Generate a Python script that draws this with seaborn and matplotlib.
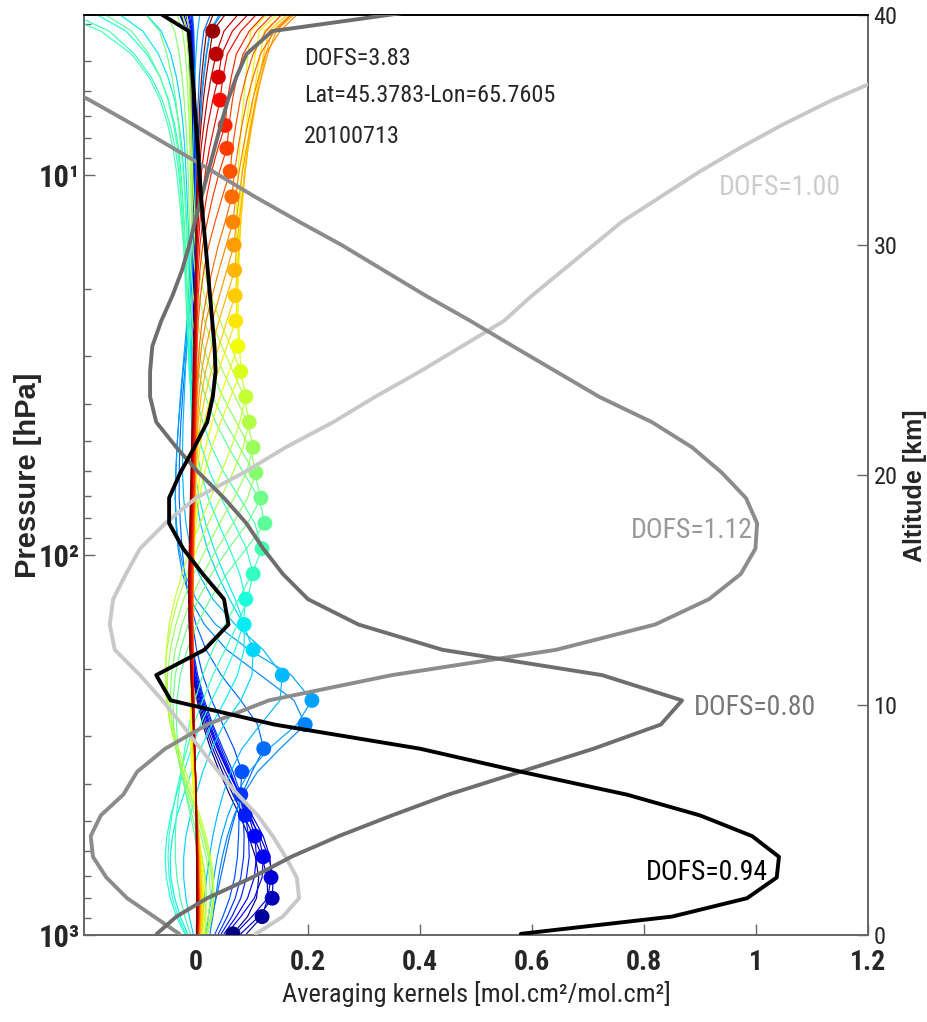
import numpy as np
import pandas as pd
import matplotlib
matplotlib.use('Agg')
import matplotlib.pyplot as plt
import seaborn as sns
from matplotlib import font_manager
from matplotlib.ticker import FixedLocator, LogLocator, NullFormatter

# altitude of the retrieval levels (km), last one sits just above the plot top
alt_km = [0.05, 0.8, 1.6, 2.5, 3.4, 4.3, 5.2, 6.1, 7.1, 8.1,
          9.15, 10.2, 11.3, 12.4, 13.5, 14.6, 15.7, 16.8, 17.9, 19.0,
          20.1, 21.2, 22.3, 23.4, 24.5, 25.6, 26.7, 27.8, 28.9, 30.0,
          31.0, 32.1, 33.2, 34.2, 35.2, 36.3, 37.3, 38.3, 39.3, 40.6]

# averaging kernel rows (x1000), one row per level, low levels first
ak_low = [
    [66, 92, 108, 112, 106, 94, 78, 60, 42, 26, 12, 2, -6, -10, -12, -12, -11, -10, -9, -8,
     -7, -6, -6, -5, -5, -5, -5, -5, -5, -5, -5, -6, -6, -7, -8, -9, -11, -13, -16, -40],
    [90, 118, 128, 127, 118, 103, 85, 66, 47, 30, 15, 4, -5, -10, -12, -12, -11, -10, -9, -8,
     -7, -6, -5, -5, -4, -4, -4, -4, -4, -4, -4, -5, -5, -6, -7, -8, -10, -12, -15, -36],
    [80, 112, 136, 138, 130, 114, 94, 73, 52, 34, 18, 6, -4, -9, -12, -12, -11, -10, -9, -8,
     -7, -6, -5, -4, -4, -4, -4, -4, -4, -4, -4, -4, -5, -5, -6, -7, -8, -10, -12, -30],
    [70, 100, 128, 134, 132, 120, 100, 79, 57, 38, 21, 8, -3, -9, -11, -12, -11, -10, -9, -8,
     -7, -6, -5, -4, -4, -3, -3, -3, -3, -3, -3, -4, -4, -4, -5, -6, -7, -8, -10, -25],
    [55, 80, 104, 118, 120, 112, 97, 78, 58, 40, 23, 9, -2, -8, -11, -11, -11, -10, -9, -8,
     -7, -6, -5, -4, -3, -3, -3, -3, -3, -3, -3, -3, -3, -4, -4, -5, -6, -7, -8, -20],
    [50, 72, 92, 104, 108, 105, 94, 78, 60, 42, 25, 11, 0, -7, -10, -11, -10, -9, -8, -7,
     -6, -5, -4, -3, -3, -2, -2, -2, -2, -2, -2, -2, -3, -3, -3, -4, -5, -6, -7, -16],
    [45, 64, 80, 90, 95, 94, 88, 77, 62, 45, 28, 13, 1, -6, -10, -11, -10, -9, -8, -7,
     -6, -5, -4, -3, -2, -2, -2, -2, -2, -2, -2, -2, -2, -3, -3, -3, -4, -5, -6, -12],
    [40, 56, 70, 80, 85, 86, 84, 80, 66, 48, 30, 15, 3, -5, -9, -10, -10, -9, -8, -7,
     -6, -5, -4, -3, -2, -2, -1, -1, -1, -1, -1, -1, -1, -2, -2, -2, -3, -4, -5, -10],
    [34, 48, 60, 69, 74, 76, 77, 79, 82, 68, 48, 28, 12, 1, -6, -9, -10, -9, -8, -7,
     -6, -5, -4, -3, -2, -2, -1, -1, -1, -1, -1, -1, -1, -1, -2, -2, -2, -3, -4, -8],
    [20, 28, 36, 44, 52, 60, 70, 82, 100, 121, 110, 80, 45, 18, 0, -12, -20, -25, -28, -30,
     -30, -29, -27, -24, -20, -16, -12, -9, -6, -4, -2, -1, 0, 1, 2, 4, 6, 9, 14, 35],
    [25, 30, 35, 40, 47, 56, 68, 84, 110, 150, 195, 175, 115, 55, 15, -10, -24, -32, -36, -37,
     -36, -34, -31, -27, -23, -18, -14, -10, -7, -4, -2, 0, 2, 4, 7, 10, 14, 19, 26, 60],
    [18, 22, 27, 32, 38, 46, 57, 72, 95, 130, 180, 207, 170, 95, 35, 0, -20, -30, -35, -37,
     -36, -34, -31, -28, -24, -20, -16, -12, -9, -6, -3, -1, 1, 3, 6, 9, 13, 18, 25, 55],
    [10, 12, 15, 19, 24, 30, 38, 48, 62, 82, 115, 150, 154, 120, 70, 30, 5, -10, -18, -22,
     -24, -24, -23, -21, -19, -17, -15, -13, -11, -9, -8, -7, -6, -5, -4, -3, -2, 0, 3, 10],
]
ak_mid = [
    [-5, -12, -18, -22, -22, -18, -10, 0, 12, 28, 50, 80, 100, 102, 85, 60, 38, 20, 8, 0,
     -4, -6, -7, -8, -8, -8, -8, -9, -10, -12, -14, -16, -18, -20, -23, -28, -35, -45, -62, -110],
    [-15, -28, -38, -45, -46, -42, -34, -22, -8, 8, 28, 52, 74, 86, 86, 70, 50, 32, 17, 6,
     -2, -6, -8, -9, -10, -10, -11, -12, -13, -15, -17, -19, -22, -25, -30, -38, -50, -67, -95, -170],
    [-20, -35, -46, -53, -55, -52, -45, -35, -22, -8, 8, 28, 50, 70, 84, 89, 78, 60, 40, 22,
     9, 0, -6, -9, -12, -13, -14, -15, -17, -19, -21, -24, -27, -31, -38, -49, -64, -88, -125, -220],
    [-18, -32, -42, -48, -50, -48, -43, -36, -27, -16, -4, 12, 30, 52, 74, 92, 102, 90, 68, 45,
     25, 10, 0, -7, -12, -14, -16, -18, -20, -22, -24, -27, -31, -37, -46, -60, -80, -110, -155, -270],
    [-10, -20, -28, -34, -37, -37, -35, -31, -26, -20, -12, -2, 12, 30, 52, 76, 100, 118, 105, 78,
     50, 28, 12, 0, -10, -12, -14, -16, -19, -22, -26, -30, -35, -41, -50, -64, -84, -115, -170, -300],
    [5, 10, 12, 10, 5, -2, -10, -18, -26, -32, -35, -34, -28, -16, 2, 25, 55, 90, 123, 112,
     85, 58, 35, 17, 4, -5, -11, -15, -18, -20, -22, -25, -29, -33, -40, -50, -64, -84, -115, -200],
    [10, 16, 19, 17, 11, 3, -7, -17, -27, -35, -40, -41, -37, -28, -14, 4, 28, 58, 92, 116,
     104, 78, 52, 30, 14, 2, -6, -11, -14, -16, -18, -20, -23, -27, -31, -36, -43, -52, -65, -110],
    [15, 22, 26, 24, 18, 9, -2, -14, -26, -36, -43, -46, -44, -37, -25, -9, 12, 38, 66, 92,
     107, 96, 72, 48, 28, 13, 2, -5, -9, -11, -12, -13, -14, -16, -18, -21, -25, -30, -38, -65],
    [18, 26, 30, 28, 22, 13, 2, -11, -24, -36, -46, -51, -51, -46, -36, -22, -4, 18, 42, 68,
     90, 102, 92, 70, 48, 30, 15, 5, -2, -6, -8, -9, -10, -11, -12, -14, -16, -19, -24, -42],
    [20, 28, 32, 30, 24, 15, 4, -9, -22, -35, -46, -53, -55, -52, -44, -32, -16, 2, 22, 44,
     66, 84, 95, 86, 66, 46, 28, 15, 5, -1, -5, -7, -8, -9, -10, -11, -12, -14, -17, -30],
    [20, 28, 32, 31, 26, 18, 7, -5, -18, -31, -42, -50, -54, -53, -48, -38, -25, -10, 7, 26,
     45, 63, 78, 89, 80, 62, 43, 27, 14, 5, -1, -4, -6, -7, -8, -9, -9, -10, -12, -20],
]
ak_high = [
    [15, 18, 18, 15, 10, 5, 0, -4, -7, -9, -10, -10, -9, -8, -7, -6, -5, -3, 0, 6,
     15, 28, 44, 62, 80, 78, 76, 74, 73, 72, 72, 73, 75, 78, 81, 85, 89, 93, 98, 150],
    [12, 14, 14, 12, 9, 5, 1, -3, -6, -8, -9, -9, -9, -8, -7, -6, -5, -4, -2, 2,
     8, 17, 29, 43, 59, 75, 75, 75, 75, 76, 77, 79, 82, 86, 90, 95, 100, 106, 113, 170],
    [10, 12, 12, 10, 8, 5, 2, -1, -4, -6, -7, -8, -8, -8, -7, -6, -5, -4, -3, -1,
     2, 7, 15, 26, 40, 55, 71, 74, 76, 78, 80, 83, 87, 91, 96, 102, 108, 115, 122, 180],
    [8, 10, 10, 9, 7, 5, 2, 0, -3, -5, -6, -7, -8, -8, -7, -6, -5, -4, -3, -2,
     0, 3, 8, 16, 27, 41, 55, 70, 74, 77, 80, 84, 88, 93, 99, 106, 113, 121, 130, 190],
    [7, 8, 8, 7, 6, 4, 2, 0, -2, -4, -5, -6, -7, -7, -7, -6, -5, -4, -3, -2,
     -1, 1, 4, 9, 17, 28, 41, 55, 69, 73, 77, 82, 87, 93, 100, 108, 116, 125, 136, 195],
    [6, 7, 7, 6, 5, 4, 2, 0, -2, -3, -4, -5, -6, -6, -6, -6, -5, -4, -3, -2,
     -1, 0, 2, 5, 10, 18, 29, 42, 55, 68, 72, 77, 83, 90, 98, 107, 117, 128, 143, 200],
    [5, 6, 6, 5, 4, 3, 2, 0, -1, -3, -4, -5, -5, -6, -6, -6, -5, -5, -4, -3,
     -2, -1, 0, 2, 5, 10, 18, 29, 41, 54, 66, 71, 77, 84, 92, 101, 112, 124, 150, 205],
    [5, 6, 6, 5, 4, 3, 2, 0, -1, -2, -3, -4, -5, -5, -6, -6, -5, -5, -4, -3,
     -2, -1, 0, 1, 3, 6, 11, 19, 29, 40, 52, 64, 69, 75, 82, 91, 102, 115, 140, 195],
    [4, 5, 5, 4, 3, 2, 1, 0, -1, -2, -3, -4, -5, -5, -6, -6, -6, -5, -5, -4,
     -3, -2, -1, 0, 1, 2, 4, 8, 14, 23, 34, 47, 61, 65, 71, 79, 89, 102, 125, 175],
    [4, 5, 5, 4, 3, 2, 1, 0, -1, -2, -3, -4, -5, -6, -7, -7, -7, -6, -5, -4,
     -3, -2, -1, 0, 0, 1, 2, 4, 7, 12, 20, 30, 42, 55, 59, 65, 73, 84, 108, 160],
    [3, 4, 4, 4, 3, 2, 1, 0, -1, -2, -3, -4, -5, -6, -7, -8, -8, -7, -6, -5,
     -4, -3, -2, -1, 0, 0, 1, 2, 4, 7, 12, 19, 28, 39, 52, 56, 63, 72, 95, 145],
    [3, 4, 4, 3, 3, 2, 1, 0, -1, -2, -3, -4, -6, -7, -8, -9, -9, -8, -7, -6,
     -5, -4, -3, -2, -1, 0, 0, 1, 2, 4, 7, 11, 17, 24, 33, 43, 48, 56, 80, 130],
    [2, 3, 3, 3, 2, 2, 1, 0, -1, -2, -4, -5, -7, -8, -9, -10, -10, -9, -8, -7,
     -6, -5, -4, -3, -2, -1, 0, 0, 1, 2, 4, 6, 10, 15, 21, 30, 40, 46, 65, 115],
    [2, 3, 3, 2, 2, 1, 1, 0, -1, -2, -4, -6, -8, -9, -10, -11, -11, -10, -9, -8,
     -7, -6, -5, -4, -3, -2, -1, 0, 0, 1, 2, 4, 6, 9, 14, 20, 27, 36, 50, 95],
    [1, 2, 2, 2, 1, 1, 0, 0, -1, -3, -5, -7, -9, -10, -11, -12, -12, -11, -10, -9,
     -8, -7, -6, -5, -4, -3, -2, -1, 0, 0, 1, 2, 4, 6, 9, 13, 18, 24, 30, 70],
    [1, 1, 1, 1, 1, 0, 0, 0, -1, -3, -5, -7, -9, -11, -12, -13, -13, -12, -11, -10,
     -9, -8, -7, -6, -5, -4, -3, -2, -1, 0, 0, 1, 2, 3, 5, 7, 10, 14, 19, 40],
]

# column kernels of the four single-layer retrievals
dofs_094 = [0.58, 0.85, 0.984, 1.037, 1.041, 0.993, 0.90, 0.77, 0.58, 0.40,
            0.14, -0.045, -0.071, 0.015, 0.058, 0.05, 0.012, -0.023, -0.048, -0.048,
            -0.028, -0.003, 0.02, 0.03, 0.035, 0.033, 0.029, 0.025, 0.021, 0.017,
            0.013, 0.009, 0.006, 0.003, 0.0, -0.003, -0.006, -0.009, -0.013, -0.10]
dofs_080 = [-0.07, -0.035, 0.02, 0.10, 0.17, 0.255, 0.35, 0.45, 0.58, 0.71,
            0.83, 0.868, 0.725, 0.44, 0.29, 0.20, 0.155, 0.12, 0.09, 0.05,
            0.005, -0.035, -0.071, -0.082, -0.082, -0.078, -0.062, -0.042, -0.025, -0.012,
            -0.002, 0.01, 0.022, 0.033, 0.044, 0.057, 0.072, 0.09, 0.136, 0.52]
dofs_112 = [-0.03, -0.075, -0.123, -0.16, -0.184, -0.188, -0.17, -0.13, -0.105, -0.055,
            0.02, 0.13, 0.35, 0.643, 0.82, 0.916, 0.973, 0.999, 1.002, 0.982,
            0.939, 0.886, 0.814, 0.72, 0.643, 0.566, 0.49, 0.41, 0.335, 0.26,
            0.185, 0.105, 0.03, -0.04, -0.11, -0.19, -0.27, -0.34, -0.41, -0.50]
dofs_100 = [0.107, 0.155, 0.184, 0.18, 0.16, 0.137, 0.11, 0.075, 0.04, 0.008,
            -0.025, -0.06, -0.10, -0.145, -0.154, -0.148, -0.125, -0.10, -0.055, 0.0,
            0.085, 0.16, 0.245, 0.32, 0.40, 0.475, 0.55, 0.60, 0.655, 0.71,
            0.76, 0.83, 0.90, 0.97, 1.045, 1.136, 1.23, 1.32, 1.41, 1.50]

x_ticks = [0, 0.2, 0.4, 0.6, 0.8, 1.0, 1.2]
x_tick_labels = ['0', '0.2', '0.4', '0.6', '0.8', '1', '1.2']
alt_ticks = [0, 10, 20, 30, 40]
p_ticks = [10, 100, 1000]
p_tick_labels = ['10\u00b9', '10\u00b2', '10\u00b3']

info_lines = ['DOFS=3.83', 'Lat=45.3783-Lon=65.7605', '20100713']
info_alt = [37.83, 36.22, 34.43]

sns.set_theme(style='white')

# the original text is a narrow face; use a condensed family when there is one
avail = {f.name for f in font_manager.fontManager.ttflist}
narrow = [n for n in ['Roboto Condensed', 'Liberation Sans Narrow', 'Arial Narrow'] if n in avail]
if narrow:
    plt.rcParams['font.family'] = [narrow[0], 'Liberation Sans', 'DejaVu Sans']
    fs = 1.0
else:
    plt.rcParams['font.family'] = ['Liberation Sans', 'DejaVu Sans']
    fs = 0.86

jet = matplotlib.colormaps['jet']

ak = np.array(ak_low + ak_mid + ak_high) / 1000.0
n_lev = len(alt_km)
df = pd.DataFrame({
    'ak': ak.ravel(),
    'alt': np.tile(alt_km, n_lev),
    'row': np.repeat(np.arange(n_lev), n_lev),
})
# dots on the diagonal (last level is above the plot)
dots = pd.DataFrame({
    'ak': [ak[i, i] for i in range(n_lev - 1)],
    'alt': alt_km[:-1],
    'row': np.arange(n_lev - 1),
})

fig = plt.figure(figsize=(9.27, 10.22), dpi=100)
ax = fig.add_axes([84 / 927, 87 / 1022, 784 / 927, 920 / 1022])
ax2 = ax.twinx()

sns.lineplot(data=df, x='ak', y='alt', hue='row', palette=jet, hue_norm=(0, n_lev - 1),
             estimator=None, sort=False, lw=0.85, legend=False, ax=ax2)
sns.scatterplot(data=dots, x='ak', y='alt', hue='row', palette=jet, hue_norm=(0, n_lev - 1),
                s=115, linewidth=0, legend=False, ax=ax2, zorder=3)

for vals, col in [(dofs_100, '#c8c8c8'), (dofs_112, '#8c8c8c'),
                  (dofs_080, '#6e6e6e'), (dofs_094, 'black')]:
    sns.lineplot(x=vals, y=alt_km, sort=False, estimator=None, color=col, lw=2.8, ax=ax2, zorder=4)

ax2.set_xlim(-0.2, 1.2)
ax2.set_ylim(0, 40)
ax.set_yscale('log')
ax.set_ylim(1000, 3.79)

# text labels
for t, a in zip(info_lines, info_alt):
    ax2.text(0.193, a, t, fontsize=17.5 * fs, va='baseline', zorder=5)
ax2.text(0.934, 32.17, 'DOFS=1.00', color='#cccccc', fontsize=20 * fs, va='baseline', zorder=5)
ax2.text(0.777, 17.26, 'DOFS=1.12', color='#999999', fontsize=20 * fs, va='baseline', zorder=5)
ax2.text(0.889, 9.57, 'DOFS=0.80', color='#777777', fontsize=20 * fs, va='baseline', zorder=5)
ax2.text(0.804, 2.39, 'DOFS=0.94', color='black', fontsize=20 * fs, va='baseline', zorder=5)

# ticks
ax.set_xticks(x_ticks)
ax.set_xticklabels(x_tick_labels)
ax.yaxis.set_major_locator(FixedLocator(p_ticks))
ax.set_yticklabels(p_tick_labels)
ax.yaxis.set_minor_locator(LogLocator(base=10, subs=np.arange(2, 10)))
ax.yaxis.set_minor_formatter(NullFormatter())
ax2.set_yticks(alt_ticks)
ax2.set_yticklabels([str(a) for a in alt_ticks])

ax.tick_params(axis='x', which='both', direction='in', length=8, width=1, color='#666666',
               pad=10, labelsize=20 * fs, bottom=True, top=False)
ax.tick_params(axis='y', which='major', direction='in', length=8, width=1, color='#666666',
               pad=3, labelsize=22 * fs, left=True, right=False)
ax.tick_params(axis='y', which='minor', direction='in', length=5, width=1, color='#666666',
               left=True, right=False)
ax2.tick_params(axis='y', direction='in', length=8, width=1, color='#666666', pad=4,
                labelsize=17.5 * fs, right=True, left=False)
for lab in ax.get_xticklabels() + ax.get_yticklabels():
    lab.set_fontweight('bold')

for a in (ax, ax2):
    for s in ['left', 'right', 'bottom']:
        a.spines[s].set_color('#666666')
        a.spines[s].set_linewidth(1.2)
    a.spines['top'].set_color('black')
    a.spines['top'].set_linewidth(1.2)

ax.set_xlabel('Averaging kernels [mol.cm\u00b2/mol.cm\u00b2]', fontsize=19 * fs)
ax.xaxis.set_label_coords(0.5, -0.050)
ax.set_ylabel('Pressure [hPa]', fontsize=21, fontweight='bold',
              family=['Liberation Sans', 'DejaVu Sans'])
ax.yaxis.set_label_coords(-0.054, 0.5)
ax2.set_ylabel('Altitude [km]', fontsize=18, fontweight='bold',
               family=['Liberation Sans', 'DejaVu Sans'])
ax2.yaxis.set_label_coords(1.0446, 0.488)

fig.savefig('out.png', dpi=100, facecolor='white')
